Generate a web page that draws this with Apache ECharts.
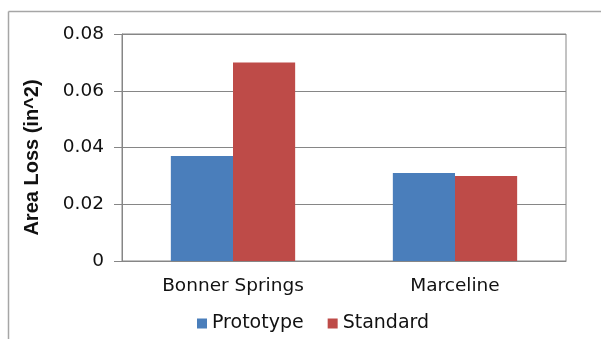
<!DOCTYPE html>
<html>
<head>
<meta charset="utf-8">
<script src="https://cdn.jsdelivr.net/npm/echarts@6/dist/echarts.min.js"></script>
<style>html,body{margin:0;padding:0;background:#fff;}#c{width:601px;height:339px;}</style>
</head>
<body>
<div id="c"></div>
<script>
const categories = ['Bonner Springs', 'Marceline'];
const seriesNames = ['Prototype', 'Standard'];
const prototypeValues = [0.037, 0.031];
const standardValues = [0.070, 0.030];
const yTicks = [0, 0.02, 0.04, 0.06, 0.08];
const yAxisTitle = 'Area Loss (in^2)';

const chart = echarts.init(document.getElementById('c'), null, {renderer: 'canvas'});
const font = 'DejaVu Sans';
chart.setOption({
  animation: false,
  backgroundColor: '#ffffff',
  graphic: [
    {type: 'line', shape: {x1: 8.5, y1: 11.5, x2: 605, y2: 11.5}, style: {stroke: '#a6a6a6', lineWidth: 1.5}, silent: true},
    {type: 'line', shape: {x1: 8.5, y1: 11.5, x2: 8.5, y2: 345}, style: {stroke: '#a6a6a6', lineWidth: 1.5}, silent: true}
  ],
  grid: {left: 122, right: 35, top: 34, bottom: 78, show: true, borderColor: '#868686', borderWidth: 1, backgroundColor: 'transparent'},
  legend: {
    data: seriesNames,
    left: 192, top: 309,
    itemWidth: 10, itemHeight: 10, itemGap: 24,
    icon: 'rect',
    textStyle: {fontFamily: font, fontSize: 19, color: '#111'}
  },
  xAxis: {
    type: 'category',
    data: categories,
    axisLine: {lineStyle: {color: '#868686'}},
    axisTick: {show: false},
    axisLabel: {fontFamily: font, fontSize: 18.5, color: '#111', margin: 16}
  },
  yAxis: {
    type: 'value',
    min: yTicks[0], max: yTicks[yTicks.length - 1], interval: 0.02,
    name: yAxisTitle,
    nameLocation: 'middle',
    nameGap: 80,
    nameTextStyle: {fontFamily: 'Liberation Sans', fontWeight: 'bold', fontSize: 20, color: '#111', padding: [0, 0, 0, -20]},
    axisLine: {show: true, lineStyle: {color: '#868686'}},
    axisTick: {show: true, inside: false, length: 8, lineStyle: {color: '#868686'}},
    axisLabel: {fontFamily: font, fontSize: 18.5, color: '#111', margin: 18,
      formatter: v => { const t = yTicks.find(x => Math.abs(x - v) < 1e-9); return t === 0 ? '0' : String(t); }},
    splitLine: {show: true, lineStyle: {color: '#868686', width: 1}}
  },
  series: [
    {name: seriesNames[0], type: 'bar', data: prototypeValues, barGap: '0%', barCategoryGap: '44%', itemStyle: {color: '#4a7ebb'}},
    {name: seriesNames[1], type: 'bar', data: standardValues, itemStyle: {color: '#be4b48'}}
  ]
});
</script>
</body>
</html>
